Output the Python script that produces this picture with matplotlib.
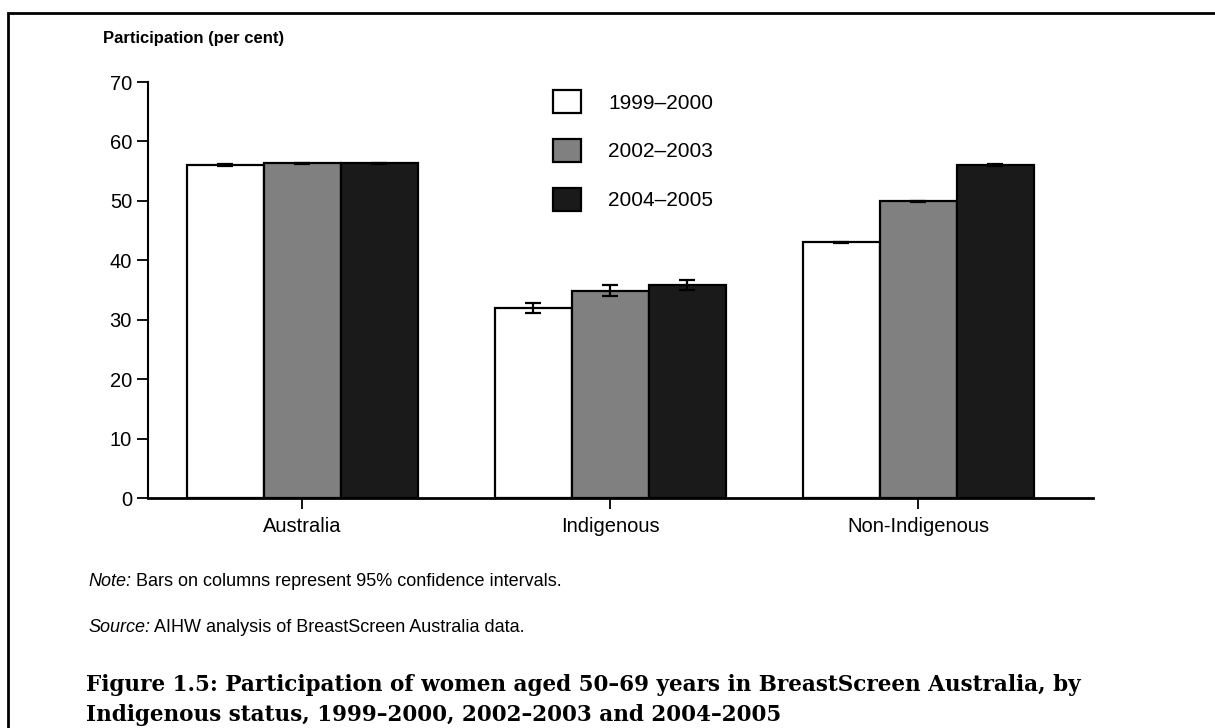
import matplotlib
matplotlib.use("Agg")
import matplotlib.pyplot as plt
import numpy as np
from matplotlib.patches import Rectangle

categories = ["Australia", "Indigenous", "Non-Indigenous"]
series_names = ["1999–2000", "2002–2003", "2004–2005"]
v_1999 = [56.0, 31.9, 43.0]
v_2002 = [56.3, 34.9, 49.9]
v_2004 = [56.3, 35.9, 56.0]
ci_1999 = [0.12, 0.85, 0.12]
ci_2002 = [0.12, 0.9, 0.12]
ci_2004 = [0.12, 0.85, 0.12]
colors = ["#ffffff", "#808080", "#1a1a1a"]
yticks = [0, 10, 20, 30, 40, 50, 60, 70]

W, H = 1215, 728
fig = plt.figure(figsize=(W / 100, H / 100), dpi=100)
plt.rcParams['font.family'] = ['Liberation Sans', 'DejaVu Sans']

ax = fig.add_axes([148 / W, 1 - 498 / H, (1093 - 148) / W, (498 - 82) / H])
x = np.arange(len(categories))
bw = 0.25
vals = [v_1999, v_2002, v_2004]
cis = [ci_1999, ci_2002, ci_2004]
for i, (v, c, col, name) in enumerate(zip(vals, cis, colors, series_names)):
    ax.bar(x + (i - 1) * bw, v, width=bw, color=col, edgecolor="black",
           linewidth=1.6, label=name, zorder=2)
    ax.errorbar(x + (i - 1) * bw, v, yerr=c, fmt="none", ecolor="black",
                elinewidth=1.6, capsize=6.1, capthick=1.6, zorder=3)

ax.set_xlim(-0.5, 2.568)
ax.set_ylim(0, 70)
ax.set_yticks(yticks)
ax.set_xticks(x)
ax.set_xticklabels(categories)
for s in ["top", "right"]:
    ax.spines[s].set_visible(False)
ax.spines["left"].set_linewidth(1.5)
ax.spines["bottom"].set_linewidth(2)
ax.tick_params(axis="both", direction="out", length=8, width=1.3, labelsize=14.5,
               colors="black")
ax.tick_params(axis="y", pad=3.5)
ax.tick_params(axis="x", pad=6)

leg = ax.legend(loc="upper left", bbox_to_anchor=((536 - 148) / (1093 - 148), 1.02),
                frameon=False, fontsize=15, handlelength=1.35, handleheight=1.3,
                labelspacing=1.25, handletextpad=1.3, borderpad=0.3)

fig.text(103 / W, 1 - 39 / H, "Participation (per cent)", fontsize=12,
         fontweight="bold", va="center", ha="left")

fig.canvas.draw()
r = fig.canvas.get_renderer()
t1 = fig.text(88 / W, 1 - 581 / H, "Note:", fontsize=13, style="italic", va="center")
bb = t1.get_window_extent(r)
fig.text(bb.x1 / W, 1 - 581 / H, " Bars on columns represent 95% confidence intervals.",
         fontsize=13, va="center")
t2 = fig.text(88 / W, 1 - 628 / H, "Source:", fontsize=13, style="italic", va="center")
bb = t2.get_window_extent(r)
fig.text(bb.x1 / W, 1 - 628 / H, " AIHW analysis of BreastScreen Australia data.",
         fontsize=13, va="center")

fig.text(86 / W, 1 - 685 / H,
         "Figure 1.5: Participation of women aged 50–69 years in BreastScreen Australia, by",
         fontsize=15.5, fontweight="bold", family=["DejaVu Serif"],
         va="center")
fig.text(86 / W, 1 - 715 / H,
         "Indigenous status, 1999–2000, 2002–2003 and 2004–2005",
         fontsize=15.5, fontweight="bold", family=["DejaVu Serif"],
         va="center")

fig.patches.append(Rectangle((8 / W, -0.1), 1.2, 1 - 13 / H + 0.1,
                             transform=fig.transFigure, fill=False,
                             edgecolor="black", linewidth=2))

fig.savefig("out.png", dpi=100)
